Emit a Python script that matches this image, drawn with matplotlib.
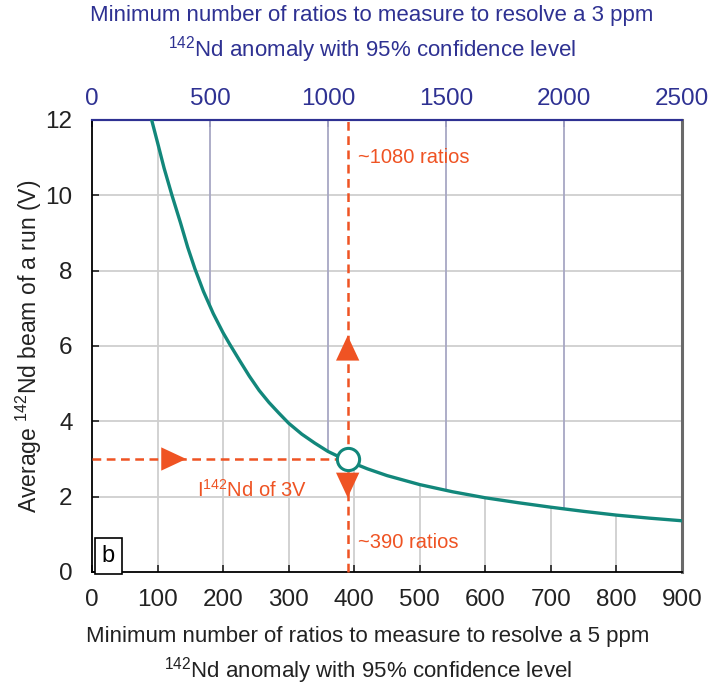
import matplotlib
matplotlib.use("Agg")
import matplotlib.pyplot as plt
import numpy as np

plt.rcParams['font.family'] = ['Liberation Sans', 'DejaVu Sans']
plt.rcParams['mathtext.default'] = 'regular'

# curve: ratios (5 ppm) vs average beam (V)
ratios_5ppm = [91, 100, 110, 122, 135, 146, 157, 170, 185, 200, 210, 225, 240, 255, 270,
               285, 300, 320, 340, 360, 390, 420, 450, 500, 550, 600, 650, 700, 750, 800,
               850, 900]
beam_V = [12.0, 11.4, 10.72, 10.0, 9.27, 8.62, 8.05, 7.45, 6.86, 6.35, 6.05, 5.62, 5.2, 4.82,
          4.5, 4.22, 3.95, 3.66, 3.42, 3.2, 2.95, 2.74, 2.56, 2.32, 2.13, 1.97, 1.84, 1.72,
          1.61, 1.51, 1.43, 1.36]

bottom_ticks = [0, 100, 200, 300, 400, 500, 600, 700, 800, 900]
top_ticks = [0, 500, 1000, 1500, 2000, 2500]
y_ticks = [0, 2, 4, 6, 8, 10, 12]
scale_top = 2500 / 900  # 3 ppm axis vs 5 ppm axis

point_x, point_y = 390, 3.0

TEAL = '#12877b'
ORANGE = '#ef5323'
NAVY = '#2e3192'
GRID = '#cfcfcf'
NAVYGRID = '#a7a7c4'
TXT = '#222222'

fig = plt.figure(figsize=(7.27, 6.98), dpi=100)
ax = fig.add_axes([92 / 727, 1 - 572 / 698, 590 / 727, 452 / 698])
ax.set_xlim(0, 900)
ax.set_ylim(0, 12)

# gridlines: horizontal full width, verticals split by the curve
for yv in y_ticks[1:-1]:
    ax.axhline(yv, color=GRID, lw=1.3, zorder=1)
for xv in bottom_ticks[1:-1]:
    ax.plot([xv, xv], [0, np.interp(xv, ratios_5ppm, beam_V)], color=GRID, lw=1.3, zorder=1)
for tv in top_ticks[1:-1]:
    xv = tv / scale_top
    ax.plot([xv, xv], [np.interp(xv, ratios_5ppm, beam_V), 12], color=NAVYGRID, lw=1.3, zorder=1)

ax.plot(ratios_5ppm, beam_V, color=TEAL, lw=2.4, zorder=3)

# orange guide lines
ax.plot([0, point_x], [point_y, point_y], color=ORANGE, lw=1.8, dashes=(3.5, 2.2), zorder=4, clip_on=False)
ax.plot([point_x, point_x], [0, 12], color=ORANGE, lw=1.8, dashes=(3.5, 2.2), zorder=4, clip_on=False)
arrow = dict(arrowstyle='-|>,head_length=0.9,head_width=0.42', color=ORANGE, lw=0, mutation_scale=20)
ax.annotate('', xy=(148, point_y), xytext=(118, point_y), arrowprops=arrow, zorder=5)
ax.annotate('', xy=(point_x, 6.35), xytext=(point_x, 5.75), arrowprops=arrow, zorder=5)
ax.annotate('', xy=(point_x, 1.9), xytext=(point_x, 2.5), arrowprops=arrow, zorder=5)

ax.plot([point_x], [point_y], 'o', ms=16, mfc='white', mec=TEAL, mew=2.2, zorder=6)

ax.text(406, 11.0, '~1080 ratios', color=ORANGE, fontsize=14.5, va='center')
ax.text(406, 0.77, '~390 ratios', color=ORANGE, fontsize=14.5, va='center')
ax.text(160, 2.18, 'I$^{142}$Nd of 3V', color=ORANGE, fontsize=14.5, va='center')

# panel letter
ax.text(25, 0.42, 'b', fontsize=17, ha='center', va='center',
        bbox=dict(boxstyle='square,pad=0.3', fc='white', ec='black', lw=1.2), zorder=7)

ax.set_xticks(bottom_ticks)
ax.set_yticks(y_ticks)
ax.tick_params(direction='in', length=5, width=1.2, labelsize=17.5, colors=TXT)
ax.tick_params(axis='x', pad=12)
ax.tick_params(axis='y', pad=14)
ax.spines['left'].set_linewidth(1.3)
ax.spines['bottom'].set_linewidth(1.3)
ax.spines['right'].set_color('#6a6a6a')
ax.spines['right'].set_linewidth(2.2)
ax.spines['top'].set_color(NAVY)
ax.spines['top'].set_linewidth(1.5)

top = ax.secondary_xaxis('top', functions=(lambda x: x * scale_top, lambda x: x / scale_top))
top.set_xticks(top_ticks)
top.tick_params(direction='in', length=5, width=1.2, labelsize=17.5, colors=NAVY, pad=7)
top.spines['top'].set_color(NAVY)
top.spines['top'].set_linewidth(1.5)

fig.text(372 / 727, 1 - 5 / 698,
         'Minimum number of ratios to measure to resolve a 3 ppm\n'
         '$^{142}$Nd anomaly with 95% confidence level',
         fontsize=16, color=NAVY, ha='center', va='top', linespacing=1.35)
fig.text(368 / 727, 1 - 626 / 698,
         'Minimum number of ratios to measure to resolve a 5 ppm\n'
         '$^{142}$Nd anomaly with 95% confidence level',
         fontsize=16, color=TXT, ha='center', va='top', linespacing=1.35)

ax.set_ylabel('Average $^{142}$Nd beam of a run (V)', fontsize=16.5, color=TXT)
ax.yaxis.set_label_coords(-0.082, 0.5)

fig.savefig('out.png', dpi=100)
